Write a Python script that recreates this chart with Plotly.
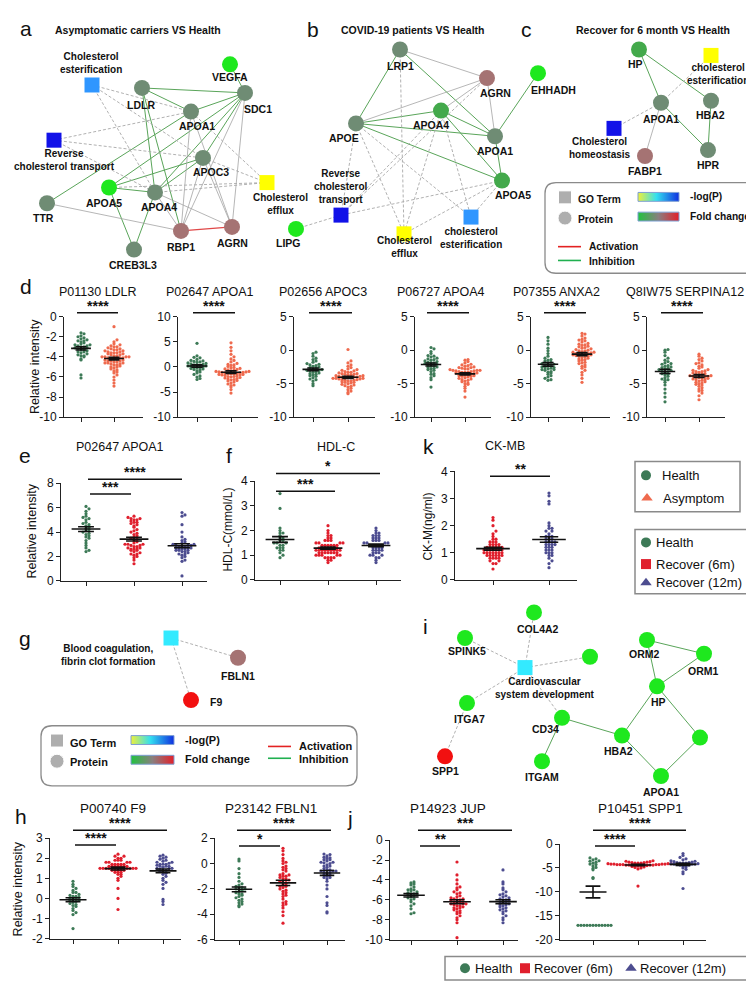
import plotly.graph_objects as go
import numpy as np

W, H = 754, 984
FONT = 'Liberation Sans, Arial, sans-serif'

C_HEALTH = '#3d7a57'
C_ASYM = '#ef6a4e'
C_R6 = '#e01f2d'
C_R12 = '#4d4d90'

##########################
# DATA - panel d (Health vs Asymptom)
##########################
d_titles = ['P01130 LDLR', 'P02647 APOA1', 'P02656 APOC3', 'P06727 APOA4', 'P07355 ANXA2', 'Q8IW75 SERPINA12']
ldlr_health = [-1.6, -1.7, -1.9, -2.0, -2.1, -2.3, -2.4, -2.4, -2.6, -2.7, -2.8, -2.8, -2.9, -3.0, -3.0, -3.1, -3.1, -3.2,
               -3.3, -3.3, -3.4, -3.5, -3.6, -3.7, -3.8, -3.9, -4.0, -4.2, -4.3, -2.2, -2.5, -3.5, -5.8, -6.1, -3.9, -2.9]
ldlr_asym = [-1.0, -2.3, -2.5, -2.7, -2.8, -3.0, -3.1, -3.2, -3.2, -3.3, -3.4, -3.4, -3.5, -3.5, -3.6, -3.6, -3.7, -3.7,
             -3.8, -3.8, -3.9, -3.9, -4.0, -4.0, -4.0, -4.1, -4.1, -4.1, -4.2, -4.2, -4.2, -4.3, -4.3, -4.4, -4.4, -4.5,
             -4.5, -4.6, -4.6, -4.7, -4.7, -4.8, -4.9, -5.0, -5.0, -5.1, -5.2, -5.3, -5.4, -5.6, -5.8, -6.0, -6.3, -6.6,
             -6.9, -2.9, -3.3, -3.6, -4.4, -4.8, -3.0, -4.0, -4.6, -5.5]
apoa1d_health = [4.7, 2.2, 1.9, 1.8, 1.5, 1.3, 1.1, 1.0, 0.9, 0.8, 0.6, 0.5, 0.4, 0.3, 0.2, 0.2, 0.1, 0.0, 0.0, -0.1, -0.2,
                 -0.3, -0.5, -0.6, -0.8, -1.0, -1.2, -1.5, -1.8, -2.0, -2.3, -2.5, 0.7, -0.4, 1.2, 0.3]
apoa1d_asym = [4.8, 3.9, 3.2, 2.5, 2.0, 1.6, 1.3, 1.0, 0.7, 0.5, 0.3, 0.1, -0.1, -0.2, -0.4, -0.5, -0.6, -0.7, -0.8, -0.9,
               -1.0, -1.0, -1.1, -1.2, -1.2, -1.3, -1.3, -1.4, -1.5, -1.5, -1.6, -1.7, -1.8, -1.9, -2.0, -2.1, -2.2, -2.3,
               -2.4, -2.6, -2.8, -3.0, -3.2, -3.4, -3.7, -4.0, -4.5, -5.2, -0.3, -1.1, -1.6, -2.5, -0.9, -1.9, 0.4, -2.7,
               -1.4, -3.6]
apoc3_health = [-0.3, -0.5, -0.9, -1.2, -1.4, -1.6, -1.8, -2.0, -2.2, -2.4, -2.5, -2.6, -2.7, -2.8, -2.9, -3.0, -3.0, -3.1,
                -3.2, -3.3, -3.4, -3.5, -3.7, -3.9, -4.1, -4.3, -4.6, -5.0, -5.3, -2.3, -3.6, -2.1, -3.8, -4.4]
apoc3_asym = [0.1, -1.6, -1.9, -2.2, -2.4, -2.6, -2.8, -3.0, -3.1, -3.2, -3.3, -3.4, -3.5, -3.6, -3.6, -3.7, -3.7, -3.8,
              -3.8, -3.9, -3.9, -4.0, -4.0, -4.0, -4.1, -4.1, -4.1, -4.2, -4.2, -4.3, -4.3, -4.4, -4.4, -4.5, -4.5, -4.6,
              -4.7, -4.8, -4.9, -5.0, -5.1, -5.2, -5.3, -5.5, -5.7, -5.9, -6.1, -6.3, -6.5, -2.9, -3.5, -4.2, -4.6, -5.4,
              -3.3, -4.8]
apoa4_health = [0.4, 0.2, -0.2, -0.5, -0.8, -1.0, -1.2, -1.4, -1.5, -1.6, -1.7, -1.8, -1.9, -2.0, -2.1, -2.2, -2.3, -2.4,
                -2.5, -2.6, -2.8, -3.0, -3.2, -3.5, -3.8, -4.1, -4.4, -5.5, -1.3, -2.7, -1.9, -2.9, -0.9, -3.6]
apoa4_asym = [-1.4, -1.5, -1.7, -1.9, -2.1, -2.3, -2.4, -2.5, -2.6, -2.7, -2.8, -2.9, -3.0, -3.0, -3.1, -3.1, -3.2, -3.2,
              -3.3, -3.3, -3.4, -3.4, -3.5, -3.5, -3.6, -3.6, -3.7, -3.7, -3.8, -3.9, -4.0, -4.1, -4.2, -4.3, -4.4, -4.5,
              -4.7, -4.9, -5.1, -5.4, -5.7, -6.1, -7.0, -2.2, -2.8, -3.3, -3.8, -4.6, -2.6, -3.9, -5.0, -3.0]
anxa2_health = [1.9, 1.4, 0.9, 0.3, -0.1, -0.5, -0.9, -1.2, -1.4, -1.6, -1.8, -1.9, -2.0, -2.1, -2.2, -2.3, -2.4, -2.5,
                -2.6, -2.7, -2.8, -2.9, -3.0, -3.2, -3.4, -3.6, -3.8, -4.0, -4.2, -4.5, -2.6, -1.5, -3.3, -4.4, -2.9]
anxa2_asym = [2.5, 2.4, 2.1, 1.8, 1.6, 1.4, 1.2, 1.0, 0.8, 0.6, 0.5, 0.3, 0.2, 0.1, 0.0, -0.1, -0.2, -0.3, -0.4, -0.5,
              -0.5, -0.6, -0.6, -0.7, -0.7, -0.8, -0.9, -1.0, -1.1, -1.2, -1.3, -1.4, -1.6, -1.8, -2.0, -2.2, -2.4, -2.7,
              -3.0, -3.3, -3.7, -4.2, -4.8, 0.4, -0.3, -0.9, -1.5, 0.9, -0.1, -2.5, 1.5, -0.5, -1.9, 0.7]
serpina12_health = [0.1, 0.0, -0.3, -0.8, -1.2, -1.5, -1.7, -1.9, -2.1, -2.3, -2.5, -2.6, -2.7, -2.8, -2.9, -3.0, -3.1,
                    -3.2, -3.3, -3.5, -3.7, -3.9, -4.1, -4.3, -4.5, -4.8, -5.2, -5.8, -6.4, -7.0, -7.7, -2.0, -3.6, -4.4,
                    -2.4]
serpina12_asym = [-0.6, -0.9, -1.2, -1.6, -1.9, -2.2, -2.5, -2.7, -2.9, -3.0, -3.1, -3.2, -3.3, -3.4, -3.5, -3.6, -3.7,
                  -3.8, -3.9, -3.9, -4.0, -4.0, -4.1, -4.1, -4.2, -4.3, -4.4, -4.5, -4.6, -4.7, -4.8, -5.0, -5.2, -5.4,
                  -5.6, -5.8, -6.1, -6.4, -6.8, -7.4, -1.4, -2.4, -3.6, -4.4, -5.1, -2.0, -3.2, -4.9, -6.0, -3.8]

##########################
# DATA - panels e, f, k (Health / Recover 6m / Recover 12m)
##########################
apoa1e_health = [6.1, 5.9, 5.7, 5.5, 5.3, 5.1, 5.0, 4.8, 4.7, 4.5, 4.4, 4.3, 4.2, 4.1, 4.0, 3.9, 3.8, 3.6, 3.5, 3.3, 3.1,
                 2.9, 2.7, 2.5, 2.4, 4.6, 3.7, 5.2]
apoa1e_r6 = [5.3, 5.2, 5.1, 5.0, 5.0, 4.9, 4.8, 4.7, 4.6, 4.5, 4.4, 4.2, 4.0, 3.8, 3.7, 3.5, 3.4, 3.3, 3.2, 3.1, 3.0, 3.0,
             2.9, 2.8, 2.8, 2.7, 2.7, 2.6, 2.5, 2.5, 2.4, 2.3, 2.2, 2.1, 2.0, 1.9, 1.7, 1.4, 3.6, 2.9, 2.6, 4.1, 5.1, 4.8,
             3.0, 2.2, 2.6, 3.9]
apoa1e_r12 = [5.6, 5.4, 5.3, 4.6, 4.0, 3.6, 3.4, 3.2, 3.1, 3.0, 2.9, 2.9, 2.8, 2.8, 2.7, 2.7, 2.6, 2.6, 2.5, 2.5, 2.4, 2.3,
              2.2, 2.1, 2.0, 1.9, 1.7, 1.6, 0.4, 3.0, 2.8, 2.6, 2.4, 3.3, 2.2, 2.9, 2.7, 2.5]
hdl_health = [3.5, 2.9, 2.1, 2.0, 1.9, 1.8, 1.7, 1.6, 1.6, 1.5, 1.5, 1.4, 1.4, 1.3, 1.3, 1.2, 1.2, 1.1, 1.0, 0.9, 1.7, 1.5,
              1.3, 1.9]
hdl_r6 = [2.2, 2.0, 1.9, 1.8, 1.8, 1.7, 1.7, 1.6, 1.6, 1.5, 1.5, 1.5, 1.4, 1.4, 1.4, 1.4, 1.3, 1.3, 1.3, 1.3, 1.3, 1.2, 1.2,
          1.2, 1.2, 1.2, 1.2, 1.1, 1.1, 1.1, 1.1, 1.1, 1.0, 1.0, 1.0, 1.0, 0.9, 0.9, 0.9, 0.8, 0.8, 0.7, 1.3, 1.2, 1.1, 1.4,
          1.6, 1.0, 1.2, 1.3, 1.5, 1.1, 0.9, 1.2, 1.4]
hdl_r12 = [2.1, 2.0, 1.9, 1.9, 1.8, 1.8, 1.7, 1.7, 1.6, 1.6, 1.5, 1.5, 1.5, 1.4, 1.4, 1.4, 1.3, 1.3, 1.3, 1.2, 1.2, 1.2,
           1.1, 1.1, 1.0, 1.0, 0.9, 0.9, 0.8, 0.7, 1.6, 1.4, 1.3, 1.1, 1.7, 1.5, 1.2, 1.0, 1.8, 1.4]
ckmb_r6 = [2.3, 2.2, 2.0, 1.8, 1.7, 1.6, 1.5, 1.5, 1.4, 1.4, 1.3, 1.3, 1.3, 1.2, 1.2, 1.2, 1.2, 1.1, 1.1, 1.1, 1.1, 1.0,
           1.0, 1.0, 1.0, 1.0, 0.9, 0.9, 0.9, 0.9, 0.8, 0.8, 0.8, 0.7, 0.7, 0.6, 0.6, 0.4, 1.1, 1.2, 1.0, 0.9, 1.3, 1.1,
           1.4, 0.8, 1.0, 1.2, 1.1, 0.9]
ckmb_r12 = [3.2, 3.1, 2.9, 2.8, 2.1, 2.0, 1.9, 1.9, 1.8, 1.7, 1.6, 1.6, 1.5, 1.5, 1.4, 1.4, 1.3, 1.3, 1.3, 1.2, 1.2, 1.1,
            1.1, 1.0, 1.0, 0.9, 0.9, 0.8, 0.7, 0.6, 0.45, 1.5, 1.4, 1.2, 1.6, 1.1, 1.3, 1.8, 1.0, 1.4]

##########################
# DATA - panels h, j
##########################
hj_titles = ['P00740 F9', 'P23142 FBLN1', 'P14923 JUP', 'P10451 SPP1']
f9_health = [0.85, 0.7, 0.6, 0.5, 0.4, 0.3, 0.2, 0.15, 0.1, 0.05, 0.0, 0.0, -0.05, -0.1, -0.15, -0.2, -0.25, -0.3, -0.4,
             -0.5, -0.6, -0.7, -0.8, -1.5, 0.3, -0.1, 0.1, -0.35]
f9_r6 = [2.2, 2.1, 2.1, 2.0, 2.0, 1.9, 1.9, 1.9, 1.8, 1.8, 1.8, 1.7, 1.7, 1.7, 1.7, 1.6, 1.6, 1.6, 1.6, 1.6, 1.5, 1.5, 1.5,
         1.5, 1.5, 1.5, 1.4, 1.4, 1.4, 1.4, 1.3, 1.3, 1.3, 1.2, 1.2, 1.1, 1.0, 0.9, 0.5, 0.0, -0.55, 1.6, 1.5, 1.7, 1.4,
         1.8, 1.5, 1.6]
f9_r12 = [2.15, 2.1, 2.05, 2.0, 1.95, 1.9, 1.85, 1.8, 1.75, 1.7, 1.7, 1.65, 1.6, 1.6, 1.55, 1.5, 1.5, 1.45, 1.4, 1.4, 1.35,
          1.3, 1.25, 1.2, 1.1, 1.0, 0.9, 0.8, 0.7, 0.5, -0.05, -0.15, -0.3, 1.6, 1.5, 1.8, 1.3, 1.7]
fbln1_health = [0.35, 0.2, -0.4, -0.8, -1.1, -1.4, -1.6, -1.7, -1.8, -1.9, -2.0, -2.0, -2.1, -2.2, -2.3, -2.4, -2.5, -2.6,
                -2.7, -2.8, -3.0, -3.1, -3.2, -3.3, -3.4, -2.4, -1.9, -2.9]
fbln1_r6 = [1.2, 1.0, 0.7, 0.4, 0.2, 0.0, -0.2, -0.3, -0.5, -0.6, -0.8, -0.9, -1.0, -1.0, -1.1, -1.2, -1.3, -1.4, -1.5,
            -1.6, -1.7, -1.8, -1.9, -2.0, -2.1, -2.2, -2.4, -2.6, -2.8, -3.0, -3.1, -3.3, -3.5, -3.8, -4.1, -4.7, -0.9,
            -1.2, -2.5, -3.2, -0.4, -1.5, -2.3, 0.1, -1.8]
fbln1_r12 = [0.75, 0.7, 0.6, 0.5, 0.45, 0.4, 0.3, 0.2, 0.1, 0.05, 0.0, -0.1, -0.2, -0.3, -0.4, -0.5, -0.6, -0.6, -0.7,
             -0.8, -0.9, -1.0, -1.1, -1.2, -1.4, -1.7, -2.0, -2.6, -3.1, -3.3, -3.8, -3.9, -0.6, -0.7, -0.5, -0.2, 0.3,
             -0.9, -1.1, 0.1]
jup_health = [-4.2, -4.3, -4.5, -4.7, -4.9, -5.0, -5.1, -5.2, -5.3, -5.4, -5.5, -5.5, -5.6, -5.7, -5.8, -5.9, -6.0, -6.2,
              -6.4, -6.6, -6.9, -7.3, -7.4, -5.4, -5.0, -4.4]
jup_r6 = [-2.2, -3.5, -4.0, -4.4, -4.7, -5.0, -5.2, -5.4, -5.6, -5.7, -5.8, -5.9, -6.0, -6.1, -6.2, -6.2, -6.3, -6.3, -6.4,
          -6.4, -6.5, -6.6, -6.7, -6.8, -6.9, -7.0, -7.2, -7.4, -7.6, -7.8, -8.0, -8.3, -9.8, -5.3, -6.0, -6.6, -7.1,
          -4.8, -6.4, -5.9, -6.8, -7.3]
jup_r12 = [-3.0, -4.2, -4.4, -4.8, -5.0, -5.2, -5.4, -5.6, -5.7, -5.8, -5.9, -6.0, -6.1, -6.2, -6.3, -6.4, -6.5, -6.6,
           -6.7, -6.8, -6.9, -7.0, -7.2, -7.4, -7.6, -7.8, -8.0, -8.3, -6.2, -6.5, -5.5, -7.1, -6.0]
spp1_health = [-2.9, -3.1, -3.3, -3.5, -3.8, -4.0, -4.3, -4.6, -4.9, -5.1, -5.4, -7.0, -7.2, -17, -17, -17, -17, -17, -17,
               -17, -17, -17, -17, -17, -17, -3.6, -4.2]
spp1_r6 = [-3.5, -3.6, -3.7, -3.8, -3.9, -3.9, -4.0, -4.0, -4.1, -4.1, -4.2, -4.2, -4.2, -4.3, -4.3, -4.3, -4.4, -4.4,
           -4.4, -4.5, -4.5, -4.6, -4.6, -4.7, -4.8, -4.9, -5.0, -5.2, -8.8, -4.1, -4.3, -4.5, -4.0, -4.2, -4.6, -3.8,
           -4.4, -4.3]
spp1_r12 = [-2.0, -2.4, -2.8, -3.1, -3.3, -3.5, -3.6, -3.7, -3.8, -3.9, -4.0, -4.0, -4.1, -4.1, -4.2, -4.2, -4.3, -4.4,
            -4.5, -4.6, -4.8, -5.0, -5.3, -5.8, -6.2, -9.3, -4.0, -4.2, -3.9, -4.4]

##########################
# DOT PLOT LAYOUT (pixel boxes of each small chart)
##########################
dot_panels = [
    # panel d
    dict(box=(56, 135, 306, 408), cats=(73, 106), yr=(-10, 0), dt=2, groups=[ldlr_health, ldlr_asym], cols=[C_HEALTH, C_ASYM]),
    dict(box=(170, 250, 306, 408), cats=(189, 223), yr=(-10, 10), dt=5, groups=[apoa1d_health, apoa1d_asym], cols=[C_HEALTH, C_ASYM]),
    dict(box=(286, 367, 306, 408), cats=(305, 340), yr=(-10, 5), dt=5, groups=[apoc3_health, apoc3_asym], cols=[C_HEALTH, C_ASYM]),
    dict(box=(407, 483, 306, 408), cats=(423, 457), yr=(-10, 5), dt=5, groups=[apoa4_health, apoa4_asym], cols=[C_HEALTH, C_ASYM]),
    dict(box=(523, 602, 306, 408), cats=(540, 574), yr=(-10, 5), dt=5, groups=[anxa2_health, anxa2_asym], cols=[C_HEALTH, C_ASYM]),
    dict(box=(639, 717, 306, 408), cats=(657, 691), yr=(-10, 5), dt=5, groups=[serpina12_health, serpina12_asym], cols=[C_HEALTH, C_ASYM]),
    # panels e, f, k
    dict(box=(53, 199, 475, 574), cats=(78, 126, 174), yr=(0, 8), dt=2, groups=[apoa1e_health, apoa1e_r6, apoa1e_r12], cols=[C_HEALTH, C_R6, C_R12]),
    dict(box=(247, 393, 473, 573), cats=(272, 320, 368), yr=(0, 4), dt=1, groups=[hdl_health, hdl_r6, hdl_r12], cols=[C_HEALTH, C_R6, C_R12]),
    dict(box=(447, 569, 463, 573), cats=(485, 541), yr=(0, 4), dt=1, groups=[ckmb_r6, ckmb_r12], cols=[C_R6, C_R12]),
    # panels h, j
    dict(box=(42, 173, 835, 937), cats=(65, 110, 154), yr=(-2, 3), dt=1, groups=[f9_health, f9_r6, f9_r12], cols=[C_HEALTH, C_R6, C_R12]),
    dict(box=(207, 337, 835, 938), cats=(231, 275, 320), yr=(-6, 2), dt=2, groups=[fbln1_health, fbln1_r6, fbln1_r12], cols=[C_HEALTH, C_R6, C_R12]),
    dict(box=(382, 510, 837, 938), cats=(403, 449, 494), yr=(-10, 0), dt=2, groups=[jup_health, jup_r6, jup_r12], cols=[C_HEALTH, C_R6, C_R12]),
    dict(box=(552, 698, 841, 938), cats=(585, 630, 674), yr=(-20, 0), dt=5, groups=[spp1_health, spp1_r6, spp1_r12], cols=[C_HEALTH, C_R6, C_R12]),
]

# significance bars: x0, x1, y, stars (pixels)
sig_bars = [(69, 110, 302, '****'), (185, 227, 302, '****'), (301, 344, 302, '****'),
            (419, 461, 302, '****'), (536, 578, 302, '****'), (653, 695, 302, '****'),
            (82, 123, 486, '***'), (80, 174, 471, '****'),
            (268, 327, 483, '***'), (268, 372, 465, '*'),
            (482, 542, 468, '**'),
            (65, 159, 827, '****'), (67, 108, 842, '****'),
            (229, 323, 827, '****'), (231, 272, 843, '*'),
            (410, 504, 827, '***'), (412, 452, 843, '**'),
            (585, 678, 827, '****'), (587, 627, 843, '****')]

##########################
# NETWORKS (node layout in pixels)
##########################
NODE_COL = {'grey': '#6f8c74', 'lime': '#1ee81e', 'green': '#43a94b', 'brown': '#a57373', 'red': '#f21010',
            'lblue': '#2f96ff', 'blue': '#1212e8', 'yellow': '#ffff00', 'cyan': '#33eaff'}
# name: (x, y, shape, color, label, label_x, label_y)
nodes = {
    # a
    'a_est': (84, 71, 's', 'lblue', 'Cholesterol<br>esterification', 83, 49),
    'a_vegfa': (222, 50, 'c', 'lime', 'VEGFA', 222, 63),
    'a_sdc1': (237, 79, 'c', 'grey', 'SDC1', 250, 95),
    'a_ldlr': (134, 74, 'c', 'grey', 'LDLR', 133, 91),
    'a_apoa1': (183, 98, 'c', 'grey', 'APOA1', 189, 113),
    'a_rev': (46, 127, 's', 'blue', 'Reverse<br>cholesterol transport', 56, 147),
    'a_apoc3': (195, 145, 'c', 'grey', 'APOC3', 203, 159),
    'a_eff': (259, 170, 's', 'yellow', 'Cholesterol<br>efflux', 272, 192),
    'a_apoa5': (101, 175, 'c', 'lime', 'APOA5', 96, 191),
    'a_apoa4': (147, 180, 'c', 'grey', 'APOA4', 151, 195),
    'a_ttr': (39, 191, 'c', 'grey', 'TTR', 35, 206),
    'a_rbp1': (173, 219, 'c', 'brown', 'RBP1', 173, 235),
    'a_agrn': (224, 215, 'c', 'brown', 'AGRN', 224, 231),
    'a_creb': (126, 238, 'c', 'grey', 'CREB3L3', 125, 254),
    # b
    'b_lrp1': (392, 35, 'c', 'grey', 'LRP1', 392, 52),
    'b_agrn': (479, 64, 'c', 'brown', 'AGRN', 487, 79),
    'b_apoa4': (433, 97, 'c', 'green', 'APOA4', 423, 112),
    'b_apoe': (348, 110, 'c', 'grey', 'APOE', 336, 125),
    'b_apoa1': (487, 123, 'c', 'grey', 'APOA1', 487, 138),
    'b_apoa5': (494, 168, 'c', 'green', 'APOA5', 505, 183),
    'b_rev': (333, 203, 's', 'blue', 'Reverse<br>cholesterol<br>transport', 333, 174),
    'b_eff': (396, 222, 's', 'yellow', 'Cholesterol<br>efflux', 396, 235),
    'b_est': (463, 205, 's', 'lblue', 'cholesterol<br>esterification', 463, 226),
    'b_lipg': (288, 217, 'c', 'lime', 'LIPG', 280, 231),
    'b_ehhadh': (530, 59, 'c', 'lime', 'EHHADH', 545, 76),
    # c
    'c_hp': (631, 35, 'c', 'green', 'HP', 627, 50),
    'c_est': (703, 41, 's', 'yellow', 'cholesterol<br>esterification', 710, 60),
    'c_apoa1': (653, 89, 'c', 'grey', 'APOA1', 653, 105),
    'c_hba2': (703, 87, 'c', 'grey', 'HBA2', 702, 101),
    'c_homeo': (606, 115, 's', 'blue', 'Cholesterol<br>homeostasis', 592, 135),
    'c_fabp1': (637, 143, 'c', 'brown', 'FABP1', 637, 158),
    'c_hpr': (700, 137, 'c', 'grey', 'HPR', 700, 152),
    # g
    'g_sq': (163, 632, 's', 'cyan', 'Blood coagulation,<br>fibrin clot formation', 100, 649),
    'g_fbln1': (230, 652, 'c', 'brown', 'FBLN1', 230, 671),
    'g_f9': (183, 695, 'c', 'red', 'F9', 200, 697),
    # i
    'i_sq': (517, 662, 's', 'cyan', 'Cardiovascular<br>system development', 537, 683),
    'i_col4a2': (526, 606, 'c', 'lime', 'COL4A2', 530, 623),
    'i_spink5': (457, 632, 'c', 'lime', 'SPINK5', 459, 645),
    'i_unk1': (582, 651, 'c', 'lime', '', 0, 0),
    'i_orm2': (639, 634, 'c', 'lime', 'ORM2', 636, 648),
    'i_orm1': (696, 648, 'c', 'lime', 'ORM1', 695, 665),
    'i_hp': (649, 681, 'c', 'lime', 'HP', 650, 697),
    'i_itga7': (459, 698, 'c', 'lime', 'ITGA7', 461, 714),
    'i_cd34': (554, 713, 'c', 'lime', 'CD34', 537, 724),
    'i_hba2': (614, 731, 'c', 'lime', 'HBA2', 610, 747),
    'i_unk2': (692, 733, 'c', 'lime', '', 0, 0),
    'i_spp1': (437, 752, 'c', 'red', 'SPP1', 437, 767),
    'i_itgam': (534, 757, 'c', 'lime', 'ITGAM', 534, 773),
    'i_apoa1': (653, 772, 'c', 'lime', 'APOA1', 653, 788),
}
edges = {
    'green': [('a_vegfa', 'a_sdc1'), ('a_ldlr', 'a_sdc1'), ('a_ldlr', 'a_apoa1'), ('a_ldlr', 'a_apoa4'),
              ('a_apoa1', 'a_sdc1'), ('a_apoa1', 'a_ttr'), ('a_sdc1', 'a_apoa4'), ('a_sdc1', 'a_apoa5'),
              ('a_sdc1', 'a_apoc3'), ('a_apoc3', 'a_apoa5'), ('a_apoc3', 'a_apoa4'), ('a_apoa5', 'a_apoa4'),
              ('a_apoa5', 'a_creb'), ('a_apoa4', 'a_creb'), ('a_ldlr', 'a_rbp1'),
              ('b_lrp1', 'b_apoe'), ('b_lrp1', 'b_apoa1'), ('b_apoe', 'b_apoa4'), ('b_apoe', 'b_apoa1'),
              ('b_apoe', 'b_apoa5'), ('b_apoa4', 'b_apoa1'), ('b_apoa4', 'b_apoa5'), ('b_apoa1', 'b_apoa5'),
              ('b_apoa1', 'b_ehhadh'),
              ('c_hp', 'c_apoa1'), ('c_hp', 'c_hba2'), ('c_hba2', 'c_hpr'), ('c_apoa1', 'c_hpr'),
              ('i_orm2', 'i_orm1'), ('i_orm2', 'i_hp'), ('i_orm1', 'i_hp'), ('i_hp', 'i_hba2'), ('i_hp', 'i_unk2'),
              ('i_hba2', 'i_apoa1'), ('i_unk2', 'i_apoa1'), ('i_cd34', 'i_hba2'), ('i_cd34', 'i_itgam')],
    'grey': [('a_sdc1', 'a_rbp1'), ('a_sdc1', 'a_agrn'), ('a_apoa1', 'a_rbp1'), ('a_apoa1', 'a_agrn'),
             ('a_apoc3', 'a_rbp1'), ('a_apoc3', 'a_agrn'), ('a_apoa4', 'a_rbp1'), ('a_apoa4', 'a_agrn'),
             ('a_ttr', 'a_rbp1'),
             ('b_lrp1', 'b_agrn'), ('b_apoe', 'b_agrn'), ('b_agrn', 'b_apoa1'), ('b_agrn', 'b_apoa4'),
             ('c_apoa1', 'c_fabp1')],
    'red': [('a_rbp1', 'a_agrn')],
    'dash': [('a_est', 'a_apoa1'), ('a_est', 'a_apoa4'), ('a_est', 'a_apoc3'), ('a_rev', 'a_apoa1'),
             ('a_rev', 'a_apoc3'), ('a_rev', 'a_apoa4'), ('a_eff', 'a_apoa1'), ('a_eff', 'a_apoc3'),
             ('a_eff', 'a_apoa4'), ('a_eff', 'a_apoa5'),
             ('b_lrp1', 'b_eff'), ('b_apoe', 'b_rev'), ('b_apoe', 'b_eff'), ('b_apoe', 'b_est'),
             ('b_apoa4', 'b_eff'), ('b_apoa4', 'b_est'), ('b_apoa4', 'b_rev'), ('b_apoa5', 'b_rev'),
             ('b_apoa5', 'b_eff'), ('b_apoa5', 'b_est'), ('b_rev', 'b_lipg'), ('b_agrn', 'b_rev'),
             ('c_apoa1', 'c_est'), ('c_apoa1', 'c_homeo'),
             ('g_sq', 'g_fbln1'), ('g_sq', 'g_f9'),
             ('i_sq', 'i_col4a2'), ('i_sq', 'i_spink5'), ('i_sq', 'i_unk1'), ('i_sq', 'i_itga7'),
             ('i_sq', 'i_cd34'), ('i_itga7', 'i_spp1')],
}
EDGE_STYLE = {'green': dict(color='#5aa55a', width=1), 'grey': dict(color='#a3a3a3', width=0.8),
              'red': dict(color='#e04848', width=1.2), 'dash': dict(color='#a8a8a8', width=0.9, dash='3px,2px')}

fig = go.Figure()
annotations = []


def txt(x, y, s, size=11, bold=False, anchor='center', color='#111', angle=0):
    if bold:
        s = '<b>' + s + '</b>'
    annotations.append(dict(x=x, y=y, xref='x', yref='y', text=s, showarrow=False, xanchor=anchor,
                            yanchor='middle', textangle=angle,
                            font=dict(family=FONT, size=size, color=color)))


##########################
# NETWORK DRAWING (overlay axis x/y in pixels)
##########################
for key, pairs in edges.items():
    xs, ys = [], []
    for a, b in pairs:
        xs += [nodes[a][0], nodes[b][0], None]
        ys += [nodes[a][1], nodes[b][1], None]
    fig.add_trace(go.Scatter(x=xs, y=ys, mode='lines', line=EDGE_STYLE[key], hoverinfo='skip', showlegend=False))

for shape, sym, size in [('c', 'circle', 16), ('s', 'square', 15)]:
    sel = [n for n in nodes.values() if n[2] == shape]
    fig.add_trace(go.Scatter(x=[n[0] for n in sel], y=[n[1] for n in sel], mode='markers',
                             marker=dict(symbol=sym, size=size, color=[NODE_COL[n[3]] for n in sel], line_width=0),
                             hoverinfo='skip', showlegend=False))
for n in nodes.values():
    if n[4]:
        # GO term labels (squares) are a bit smaller than the protein labels
        txt(n[5], n[6], n[4], size=10 if n[2] == 's' else 10.5, bold=True,
            anchor='left' if n[4] == 'F9' else 'center')

# panel letters & network titles
for s, x, y in [('a', 18, 14), ('b', 305, 15), ('c', 518, 15), ('d', 18, 275), ('e', 17, 447), ('f', 221, 447),
                ('k', 420, 438), ('g', 17, 633), ('i', 417, 620), ('h', 13, 813), ('j', 342, 815)]:
    txt(x, y, s, size=21)
txt(130, 15, 'Asymptomatic carriers VS Health', 10.5, True)
txt(405, 15, 'COVID-19 patients VS Health', 10.5, True)
txt(645, 15, 'Recover for 6 month VS Health', 10.5, True)


##########################
# GO / PROTEIN LEGENDS
##########################
def rrect(x0, y0, x1, y1, r):
    return (f'M{x0 + r},{y0} L{x1 - r},{y0} Q{x1},{y0} {x1},{y0 + r} L{x1},{y1 - r} Q{x1},{y1} {x1 - r},{y1} '
            f'L{x0 + r},{y1} Q{x0},{y1} {x0},{y1 - r} L{x0},{y0 + r} Q{x0},{y0} {x0 + r},{y0} Z')


shapes = []


def go_legend(x0, y0, x1, y1, sym_x, bar_x, bar_w, act_pos, fs):
    shapes.append(dict(type='path', path=rrect(x0, y0, x1, y1, 11), xref='x', yref='y',
                       line=dict(color='#8a8a8a', width=1.3)))
    fig.add_trace(go.Scatter(x=[sym_x, sym_x], y=[y0 + 15, y0 + 36], mode='markers',
                             marker=dict(symbol=['square', 'circle'], size=[13, 14], color='#8c8c8c'),
                             hoverinfo='skip', showlegend=False))
    txt(sym_x + 11, y0 + 17, 'GO Term', fs, True, 'left')
    txt(sym_x + 11, y0 + 37, 'Protein', fs, True, 'left')
    for yy, cs, lab in [(y0 + 10, [[0, '#eef03a'], [0.45, '#33dff0'], [1, '#0f2fe0']], '-log(P)'),
                        (y0 + 30, [[0, '#22c23f'], [0.5, '#8a7f7f'], [1, '#e3202a']], 'Fold change')]:
        fig.add_trace(go.Scatter(x=[bar_x, bar_x + bar_w, bar_x + bar_w, bar_x, bar_x],
                                 y=[yy, yy, yy + 9, yy + 9, yy], mode='lines', fill='toself',
                                 fillgradient=dict(type='horizontal', colorscale=cs),
                                 line=dict(color='#7d9fd3', width=1), hoverinfo='skip', showlegend=False))
        txt(bar_x + bar_w + 9, yy + 4, lab, fs, True, 'left')
    ax, ay1, ay2 = act_pos
    fig.add_trace(go.Scatter(x=[ax, ax + 23], y=[ay1, ay1], mode='lines',
                             line=dict(color='#e32222', width=1.6), hoverinfo='skip', showlegend=False))
    shapes.append(dict(type='line', x0=ax, x1=ax + 23, y0=ay2, y1=ay2, xref='x', yref='y',
                       line=dict(color='#20b050', width=1.6)))
    txt(ax + 29, ay1, 'Activation', fs, True, 'left')
    txt(ax + 29, ay2 + 1, 'Inhibition', fs, True, 'left')


go_legend(537, 170, 750, 262, 557, 630, 41, (550, 235, 249), 10.2)
go_legend(33, 721, 349, 782, 49, 123, 43, (260, 742, 754), 11)


##########################
# DOT PLOTS
##########################
def swarm_offsets(vals, vpp, step=3.0):
    # simple beeswarm: points falling into the same height bin are spread sideways (in pixels)
    offs = [0.0] * len(vals)
    count = {}
    for i in sorted(range(len(vals)), key=lambda k: vals[k]):
        b = int(round(vals[i] / (step * vpp)))
        k = count.get(b, 0)
        count[b] = k + 1
        offs[i] = ((k + 1) // 2) * (1 if k % 2 else -1) * step
    return offs


layout_axes = {}
for n, p in enumerate(dot_panels, start=2):
    L, R, top, bot = p['box']
    c0 = p['cats'][0]
    sp = p['cats'][1] - c0
    ymin, ymax = p['yr']
    vpp = (ymax - ymin) / (bot - top)
    layout_axes[f'xaxis{n}'] = dict(domain=[L / W, R / W], range=[(L - c0) / sp, (R - c0) / sp],
                                    anchor=f'y{n}', showline=True, linecolor='#222', linewidth=1,
                                    ticks='outside', ticklen=4, tickcolor='#222',
                                    tickvals=list(range(len(p['cats']))), showticklabels=False,
                                    showgrid=False, zeroline=False, fixedrange=True)
    tv = list(range(ymin, ymax + 1, p['dt']))
    layout_axes[f'yaxis{n}'] = dict(domain=[1 - bot / H, 1 - top / H], range=[ymin, ymax], anchor=f'x{n}',
                                    showline=True, linecolor='#222', linewidth=1, ticks='outside', ticklen=4,
                                    tickcolor='#222', tickvals=tv, ticktext=[str(v) for v in tv],
                                    tickfont=dict(family=FONT, size=12, color='#111'),
                                    showgrid=False, zeroline=False, fixedrange=True)
    hw = 0.3
    lx, ly = [], []
    for g, (vals, col) in enumerate(zip(p['groups'], p['cols'])):
        offs = swarm_offsets(vals, vpp)
        fig.add_trace(go.Scatter(x=[g + o / sp for o in offs], y=vals, mode='markers',
                                 marker=dict(size=3.2, color=col, line_width=0), cliponaxis=False,
                                 xaxis=f'x{n}', yaxis=f'y{n}', hoverinfo='skip', showlegend=False))
        arr = np.array(vals)
        m = arr.mean()
        se = arr.std(ddof=1) / np.sqrt(len(arr))
        cw = hw * 0.55
        lx += [g - hw, g + hw, None, g, g, None, g - cw, g + cw, None, g - cw, g + cw, None]
        ly += [m, m, None, m - se, m + se, None, m - se, m - se, None, m + se, m + se, None]
    fig.add_trace(go.Scatter(x=lx, y=ly, mode='lines', line=dict(color='#111', width=1.6), cliponaxis=False,
                             xaxis=f'x{n}', yaxis=f'y{n}', hoverinfo='skip', showlegend=False))

# significance bars
bx, by = [], []
for x0, x1, y, stars in sig_bars:
    bx += [x0, x1, None]
    by += [y, y, None]
    txt((x0 + x1) / 2, y - 7, stars, 14, True)
fig.add_trace(go.Scatter(x=bx, y=by, mode='lines', line=dict(color='#111', width=1.5),
                         hoverinfo='skip', showlegend=False))

# chart titles
d_centers = [90, 202, 315, 433, 548, 677]
for t, cx in zip(d_titles, d_centers):
    txt(cx, 281, t, 12.5)
txt(112, 438, 'P02647 APOA1', 12.5)
txt(328, 438, 'HDL-C', 12.5)
txt(497, 437, 'CK-MB', 12.5)
for t, cx in zip(hj_titles, [105, 263, 440, 632]):
    txt(cx, 805, t, 13.5)

# y axis titles
txt(27, 357, 'Relative intensity', 12.5, angle=-90)
txt(24, 524, 'Relative intensity', 12.5, angle=-90)
txt(220, 522, 'HDL-C(mmol/L)', 12, angle=-90)
txt(420, 519, 'CK-M(ng/ml)', 12, angle=-90)
txt(10, 887, 'Relative intensity', 12.5, angle=-90)

##########################
# GROUP LEGENDS
##########################
for x0, y0, x1, y1 in [(627, 453, 732, 504), (627, 522, 742, 587), (437, 955, 740, 979)]:
    shapes.append(dict(type='rect', x0=x0, y0=y0, x1=x1, y1=y1, xref='x', yref='y',
                       line=dict(color='#8a8a8a', width=1.5)))
leg_items = [(638, 467, 'circle', C_HEALTH, 'Health', 652), (639, 490, 'triangle-up', C_ASYM, 'Asymptom', 653),
             (638, 535, 'circle', C_HEALTH, 'Health', 646), (638, 557, 'square', C_R6, 'Recover (6m)', 646),
             (638, 576, 'triangle-up', C_R12, 'Recover (12m)', 646),
             (457, 967, 'circle', C_HEALTH, 'Health', 465), (517, 967, 'square', C_R6, 'Recover (6m)', 524),
             (623, 967, 'triangle-up', C_R12, 'Recover (12m)', 630)]
fig.add_trace(go.Scatter(x=[it[0] for it in leg_items], y=[it[1] for it in leg_items], mode='markers',
                         marker=dict(symbol=[it[2] for it in leg_items], size=10, color=[it[3] for it in leg_items]),
                         hoverinfo='skip', showlegend=False))
for it in leg_items:
    txt(it[5], it[1], it[4], 13, anchor='left')

fig.update_layout(
    width=W, height=H, autosize=False,
    margin=dict(l=0, r=0, t=0, b=0),
    paper_bgcolor='white', plot_bgcolor='rgba(0,0,0,0)',
    xaxis=dict(domain=[0, 1], range=[0, W], visible=False, fixedrange=True),
    yaxis=dict(domain=[0, 1], range=[H, 0], visible=False, fixedrange=True),
    annotations=annotations, shapes=shapes,
    font=dict(family=FONT),
    **layout_axes
)

fig.write_html("out.html")
